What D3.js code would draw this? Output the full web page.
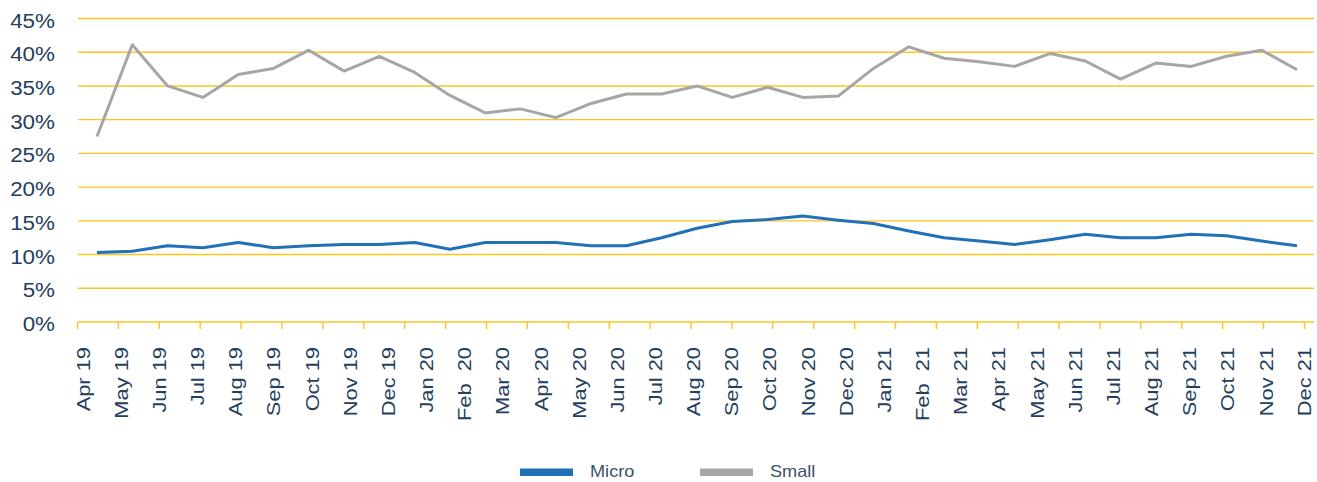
<!DOCTYPE html>
<html>
<head>
<meta charset="utf-8">
<script src="https://cdn.jsdelivr.net/npm/d3@7"></script>
<style>
  html, body { margin: 0; padding: 0; background: #fff; }
  svg { display: block; }
  text { font-family: "Liberation Sans", Arial, sans-serif; }
</style>
</head>
<body>
<svg id="chart" width="1317" height="482"></svg>
<script>
// ---- data ----
const monthLabels = ["Apr 19","May 19","Jun 19","Jul 19","Aug 19","Sep 19","Oct 19","Nov 19","Dec 19",
  "Jan 20","Feb  20","Mar 20","Apr 20","May 20","Jun 20","Jul 20","Aug 20","Sep 20","Oct 20","Nov 20","Dec 20",
  "Jan 21","Feb  21","Mar 21","Apr 21","May 21","Jun 21","Jul 21","Aug 21","Sep 21","Oct 21","Nov 21","Dec 21"];
const microValues = [10.3,10.5,11.3,11.0,11.8,11.0,11.3,11.5,11.5,11.8,10.8,11.8,11.8,11.8,11.3,11.3,12.5,13.9,
  14.9,15.2,15.7,15.1,14.6,13.5,12.5,12.0,11.5,12.2,13.0,12.5,12.5,13.0,12.8,12.0,11.3];
const smallValues = [27.5,41.1,35.0,33.3,36.7,37.6,40.3,37.2,39.4,37.0,33.6,31.0,31.6,30.3,32.4,33.8,33.8,35.0,
  33.3,34.8,33.3,33.5,37.6,40.8,39.1,38.6,37.9,39.8,38.7,36.0,38.4,37.9,39.4,40.3,37.4];
const yTicks = [0,5,10,15,20,25,30,35,40,45];
const seriesNames = ["Micro","Small"];
const seriesColors = ["#2170B8","#A6A6A8"];

// ---- layout ----
const svg = d3.select("#chart");
const gridColor = "#FFC41E";
const textColor = "#243E5E";

const y = d3.scaleLinear().domain([0,45]).range([322,18.5]);
const xData = d3.scaleLinear().domain([0, microValues.length-1]).range([97,1297]);
const xLabel = d3.scalePoint().domain(monthLabels).range([83,1304]);
const xTick = d3.scaleLinear().domain([0,30]).range([77.5,1304.5]);

function stretch(sel, f) {
  sel.each(function() {
    const len = this.getComputedTextLength();
    d3.select(this).attr("textLength", len * f).attr("lengthAdjust", "spacingAndGlyphs");
  });
}

// gridlines
svg.append("g").selectAll("line").data(yTicks).join("line")
  .attr("x1",78).attr("x2",1314)
  .attr("y1",d=>y(d)).attr("y2",d=>y(d))
  .attr("stroke",gridColor).attr("stroke-width",1.4);

// y axis labels
svg.append("g").selectAll("text").data(yTicks).join("text")
  .attr("x",55).attr("y",d=>y(d)+2)
  .attr("dy","0.35em")
  .attr("text-anchor","end")
  .attr("font-size",20)
  .attr("fill",textColor)
  .text(d=>d+"%")
  .call(stretch, 1.12);

// x tick marks
svg.append("g").selectAll("line").data(d3.range(31)).join("line")
  .attr("x1",d=>xTick(d)).attr("x2",d=>xTick(d))
  .attr("y1",322).attr("y2",329)
  .attr("stroke",gridColor).attr("stroke-width",1.4);

// x labels
svg.append("g").selectAll("text").data(monthLabels).join("text")
  .attr("transform",d=>`translate(${xLabel(d)},347) rotate(-90)`)
  .attr("dy","0.35em")
  .attr("text-anchor","end")
  .attr("font-size",19)
  .attr("fill",textColor)
  .style("white-space","pre")
  .text(d=>d)
  .call(stretch, 1.15);

// lines
const line = d3.line().x((d,i)=>xData(i)).y(d=>y(d));
[smallValues, microValues].forEach((vals, k) => {
  const idx = k===0 ? 1 : 0;
  svg.append("path").datum(vals)
    .attr("d",line)
    .attr("fill","none")
    .attr("stroke",seriesColors[idx])
    .attr("stroke-width",3)
    .attr("stroke-linejoin","round");
});

// legend
const legendX = [520,700];
const lg = svg.append("g").selectAll("g").data(seriesNames).join("g");
lg.append("rect")
  .attr("x",(d,i)=>legendX[i]).attr("y",468.5)
  .attr("width",53).attr("height",7.5)
  .attr("fill",(d,i)=>seriesColors[i]);
lg.append("text")
  .attr("x",(d,i)=>legendX[i]+70).attr("y",476.7)
  .attr("font-size",16.5)
  .attr("fill","#3E5068")
  .text(d=>d)
  .call(stretch, 1.1);
</script>
</body>
</html>
